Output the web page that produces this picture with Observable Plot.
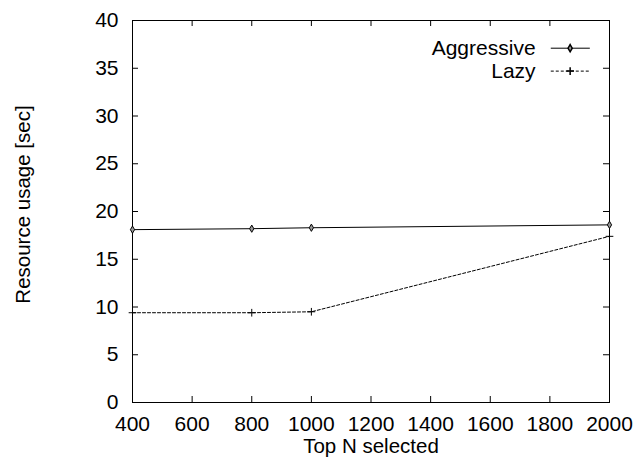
<!DOCTYPE html>
<html><head><meta charset="utf-8">
<script src="https://cdn.jsdelivr.net/npm/d3@7"></script>
<script src="https://cdn.jsdelivr.net/npm/@observablehq/plot@0.6"></script>
<style>
body{margin:0;background:#fff}
svg{font-family:"Liberation Sans",Arial,Helvetica,sans-serif}
</style>
</head><body><div id="chart"></div>
<script>
const topN = [400, 800, 1000, 2000];
const aggressive = [18.1, 18.2, 18.3, 18.6];
const lazy = [9.4, 9.4, 9.5, 17.4];
const seriesNames = ["Aggressive", "Lazy"];
const xTicks = [400, 600, 800, 1000, 1200, 1400, 1600, 1800, 2000];
const yTicks = [0, 5, 10, 15, 20, 25, 30, 35, 40];
const xLabel = "Top N selected";
const yLabel = "Resource usage [sec]";

const W = 634, H = 458;
const mL = 132, mR = 25, mT = 20, mB = 56;
const pw = W - mL - mR, ph = H - mT - mB;
const tick = 6, fs = 21, fsLabel = 20.5;

const aggData = topN.map((x, i) => ({x, y: aggressive[i]}));
const lazyData = topN.map((x, i) => ({x, y: lazy[i]}));

// legend layout (data units of the plot scales)
const legendRows = seriesNames.map((name, i) => ({
  name, y: 37.1 - i * 2.4, x1: 1803, x2: 1934, xm: 1868, xt: 1752
}));

const chart = Plot.plot({
  width: W, height: H,
  marginLeft: mL, marginRight: mR, marginTop: mT, marginBottom: mB,
  x: {domain: [400, 2000], axis: null},
  y: {domain: [0, 40], axis: null},
  marks: [
    Plot.frame({stroke: "black", strokeWidth: 1}),
    Plot.tickX(xTicks, {x: d => d, insetTop: ph - tick, stroke: "black"}),
    Plot.tickX(xTicks, {x: d => d, insetBottom: ph - tick, stroke: "black"}),
    Plot.tickY(yTicks, {y: d => d, insetRight: pw - tick, stroke: "black"}),
    Plot.tickY(yTicks, {y: d => d, insetLeft: pw - tick, stroke: "black"}),
    Plot.text(xTicks, {x: d => d, frameAnchor: "bottom", dy: 21.5, text: d => String(d), textAnchor: "middle", lineAnchor: "middle", fontSize: fs, fill: "black"}),
    Plot.text(yTicks, {y: d => d, frameAnchor: "left", textAnchor: "end", lineAnchor: "middle", dx: -14, text: d => String(d), fontSize: fs, fill: "black"}),
    Plot.text([xLabel], {frameAnchor: "bottom", dy: 44, textAnchor: "middle", lineAnchor: "middle", fontSize: fsLabel, fill: "black"}),
    Plot.text([yLabel], {frameAnchor: "left", rotate: -90, dx: -109, dy: -7, textAnchor: "middle", lineAnchor: "middle", fontSize: fsLabel, fill: "black"}),
    Plot.line(aggData, {x: "x", y: "y", stroke: "black", strokeWidth: 1}),
    Plot.line(lazyData, {x: "x", y: "y", stroke: "black", strokeWidth: 1, strokeDasharray: "3,2"}),
    Plot.dot(aggData, {x: "x", y: "y", symbol: "diamond", r: 2.2, fill: "#999", stroke: "black", strokeWidth: 1}),
    Plot.dot(lazyData, {x: "x", y: "y", symbol: "plus", r: 2.6, stroke: "black", strokeWidth: 1}),
    // legend
    Plot.text(legendRows, {x: "xt", y: "y", text: "name", textAnchor: "end", lineAnchor: "middle", fontSize: fs, fill: "black"}),
    Plot.link(legendRows.slice(0, 1), {x1: "x1", x2: "x2", y1: "y", y2: "y", stroke: "black", strokeWidth: 1}),
    Plot.link(legendRows.slice(1), {x1: "x1", x2: "x2", y1: "y", y2: "y", stroke: "black", strokeWidth: 1, strokeDasharray: "3,2"}),
    Plot.dot(legendRows.slice(0, 1), {x: "xm", y: "y", symbol: "diamond", r: 2.2, fill: "#999", stroke: "black"}),
    Plot.dot(legendRows.slice(1), {x: "xm", y: "y", symbol: "plus", r: 2.6, stroke: "black"})
  ]
});
document.getElementById("chart").appendChild(chart);
</script>
</body></html>
